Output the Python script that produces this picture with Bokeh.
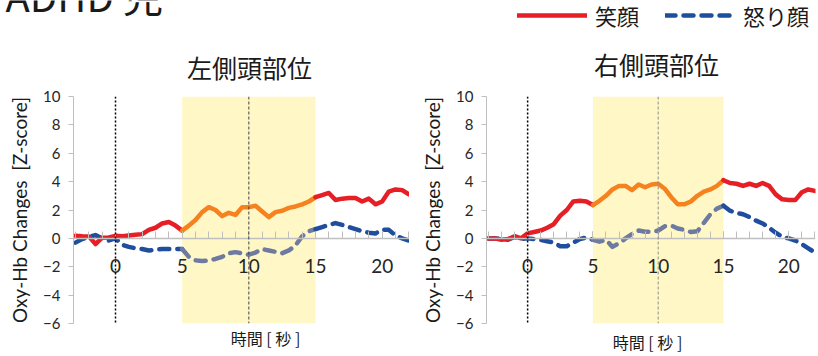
import numpy as np
from bokeh.plotting import figure
from bokeh.layouts import row, column
from bokeh.models import (ColumnDataSource, BoxAnnotation, Span, Legend, LegendItem,
                          FixedTicker, SingleIntervalTicker)
from bokeh.core.properties import value
from bokeh.embed import file_html
from bokeh.resources import INLINE

# ---------------- data ----------------
time = [-3.0, -2.5, -2.0, -1.5, -1.0, -0.5,
        0.0, 0.5, 1.0, 1.5, 2.0, 2.5, 3.0, 3.5, 4.0, 4.5,
        5.0, 5.5, 6.0, 6.5, 7.0, 7.5, 8.0, 8.5, 9.0, 9.5,
        10.0, 10.5, 11.0, 11.5, 12.0, 12.5, 13.0, 13.5, 14.0, 14.5,
        15.0, 15.5, 16.0, 16.5, 17.0, 17.5, 18.0, 18.5, 19.0, 19.5,
        20.0, 20.5, 21.0, 21.5, 22.0]

left_smile = [0.18, 0.15, 0.14, -0.4, 0.05, 0.07,
              0.18, 0.15, 0.2, 0.25, 0.3, 0.6, 0.75, 1.05, 1.15, 0.9,
              0.55, 0.9, 1.3, 1.85, 2.2, 2.0, 1.57, 1.8, 1.65, 2.2,
              2.2, 2.3, 1.9, 1.5, 1.85, 1.95, 2.15, 2.25, 2.4, 2.6,
              2.9, 3.05, 3.2, 2.7, 2.8, 2.85, 2.85, 2.6, 2.8, 2.4,
              2.6, 3.3, 3.45, 3.4, 3.1]
left_anger = [-0.3, -0.05, 0.1, 0.23, 0.0, -0.15,
              0.0, -0.45, -0.6, -0.7, -0.75, -0.85, -0.8, -0.75, -0.75, -0.75,
              -0.75, -1.3, -1.55, -1.6, -1.55, -1.45, -1.3, -1.05, -0.97, -1.05,
              -1.15, -1.0, -0.76, -0.85, -0.95, -1.04, -0.85, -0.5, 0.15, 0.5,
              0.65, 0.8, 0.95, 1.08, 0.95, 0.8, 0.65, 0.5, 0.4, 0.35,
              0.6, 0.6, 0.2, 0.0, -0.15]
right_smile = [0.0, 0.0, -0.1, -0.05, 0.15, 0.0,
               0.35, 0.45, 0.55, 0.75, 1.0, 1.6, 2.0, 2.6, 2.65, 2.6,
               2.35, 2.65, 3.0, 3.45, 3.7, 3.7, 3.4, 3.8, 3.6, 3.8,
               3.85, 3.5, 2.9, 2.4, 2.4, 2.6, 3.0, 3.3, 3.45, 3.7,
               4.1, 3.9, 3.85, 3.7, 3.85, 3.7, 3.9, 3.7, 3.1, 2.75,
               2.7, 2.7, 3.25, 3.45, 3.35]
right_anger = [0.0, 0.0, -0.05, -0.1, 0.1, -0.05,
               0.0, -0.05, -0.1, -0.2, -0.3, -0.55, -0.55, -0.3, -0.05, 0.07,
               -0.1, -0.23, -0.1, -0.6, -0.35, 0.0, 0.3, 0.55, 0.47, 0.45,
               0.55, 0.85, 0.9, 0.7, 0.6, 0.45, 0.5, 1.1, 1.7, 2.1,
               2.3, 1.95, 1.8, 1.7, 1.5, 1.25, 1.05, 0.75, 0.4, 0.1,
               0.0, -0.15, -0.4, -0.7, -1.0]

task_window = [5, 15]          # highlighted task period (s)
onset_line = 0                 # stimulus onset
mid_line = 10                  # mid-task marker
y_ticks = [-6, -4, -2, 0, 2, 4, 6, 8, 10]
panel_titles = ["左側頭部位", "右側頭部位"]
series_names = ["笑顔", "怒り顔"]
header = "ADHD 児"
x_title = "時間 [ 秒 ]"
y_title = "Oxy-Hb Changes \u00a0[Z-score]"

RED, ORANGE = "#e61e25", "#f5821f"
BLUE, GREYBLUE = "#1f4e9e", "#6e7aa0"
JP = "Noto Sans CJK JP"
LAT = "Lato"
TXT = "#1a1a1a"

t = np.array(time)


def segments(vals):
    v = np.array(vals)
    pre = t <= task_window[0]
    mid = (t >= task_window[0]) & (t <= task_window[1])
    post = t >= task_window[1]
    return [ColumnDataSource(dict(x=t[m], y=v[m])) for m in (pre, mid, post)]


def blank_fig(w, h):
    f = figure(width=w, height=h, x_range=(0, w), y_range=(h, 0),
               output_backend="svg", toolbar_location=None, title=None,
               min_border_left=0, min_border_right=0, min_border_top=0, min_border_bottom=0)
    f.xaxis.visible = False
    f.yaxis.visible = False
    f.grid.visible = False
    f.outline_line_color = None
    return f


def make_panel(smile, anger, border_left, border_right, border_top, mid_color):
    p = figure(width=409, height=249, x_range=(-3.15, 22.05), y_range=(-6, 10),
               output_backend="svg", toolbar_location=None, title=None,
               min_border_left=border_left, min_border_right=border_right,
               min_border_top=border_top, min_border_bottom=8)
    p.outline_line_color = None
    p.grid.visible = False

    p.add_layout(BoxAnnotation(left=task_window[0], right=task_window[1],
                               fill_color="#fff8c6", fill_alpha=1.0,
                               line_color=None, level="underlay"))

    ya = p.yaxis[0]
    ya.ticker = FixedTicker(ticks=y_ticks)
    ya.axis_line_color = "#bfbfbf"
    ya.major_tick_line_color = "#bfbfbf"
    ya.major_tick_out = 5
    ya.major_tick_in = 0
    ya.minor_tick_line_color = None
    ya.major_label_text_font = LAT
    ya.major_label_text_font_size = "15px"
    ya.major_label_text_color = "#262626"
    ya.major_label_standoff = 8
    ya.axis_label = y_title
    ya.axis_label_text_font = LAT
    ya.axis_label_text_font_size = "19px"
    ya.axis_label_text_font_style = "normal"
    ya.axis_label_text_color = TXT
    ya.axis_label_standoff = 9

    xa = p.xaxis[0]
    xa.fixed_location = 0
    xa.ticker = SingleIntervalTicker(interval=5, num_minor_ticks=5)
    xa.axis_line_color = "#bfbfbf"
    xa.axis_line_width = 1.5
    xa.major_tick_line_color = "#bfbfbf"
    xa.minor_tick_line_color = "#bfbfbf"
    xa.major_tick_in = 7
    xa.major_tick_out = 0
    xa.minor_tick_in = 7
    xa.minor_tick_out = 0
    xa.major_label_text_font = LAT
    xa.major_label_text_font_size = "19px"
    xa.major_label_text_color = "#262626"
    xa.major_label_standoff = 21

    p.add_layout(Span(location=onset_line, dimension="height", line_color="black",
                      line_dash="2 2", line_width=1.5))
    p.add_layout(Span(location=mid_line, dimension="height", line_color=mid_color,
                      line_dash="3 2", line_width=1))

    for vals, cols, dash in ((anger, (BLUE, GREYBLUE, BLUE), "10 8"),
                             (smile, (RED, ORANGE, RED), "solid")):
        for src, col in zip(segments(vals), cols):
            p.line("x", "y", source=src, line_color=col, line_width=4.5,
                   line_dash=dash, line_cap="round", line_join="round")
    return p


# ---------- header (page title, legend, panel titles) ----------
hdr = blank_fig(818, 82)
hdr.text(x=[5], y=[-6], text=[header], text_font=value(JP), text_font_size="40px",
         text_align="left", text_baseline="alphabetic", text_color=TXT)
hdr.text(x=[249, 656], y=[66, 63], text=panel_titles, text_font=value(JP),
         text_font_size="25px", text_align="center", text_baseline="middle",
         text_color=TXT)
# legend proxies (kept outside the visible header range)
leg_smile = hdr.line(x=[-50, -40], y=[-50, -50], line_color=RED, line_width=4.5,
                     line_cap="round")
leg_anger = hdr.line(x=[-50, -40], y=[-50, -50], line_color=BLUE, line_width=4.5,
                     line_dash="10 8", line_cap="round")
lg = Legend(items=[LegendItem(label=series_names[0], renderers=[leg_smile]),
                   LegendItem(label=series_names[1], renderers=[leg_anger])],
            location=(517, 51), orientation="horizontal",
            glyph_width=70, glyph_height=20, label_standoff=8, spacing=26,
            padding=0, margin=0, border_line_color=None,
            background_fill_alpha=0, label_text_font=JP,
            label_text_font_size="22px", label_text_color=TXT,
            label_text_baseline="middle", label_height=20)
hdr.add_layout(lg)

# ---------- panels ----------
p1 = make_panel(left_smile, left_anger, 73, 0, 10, "#404040")
p2 = make_panel(right_smile, right_anger, 77, 3, 14, "#8c8c8c")

# ---------- footer (x-axis titles) ----------
ftr = blank_fig(818, 25)
ftr.text(x=[265, 647], y=[6, 10], text=[x_title, x_title], text_font=value(JP),
         text_font_size="16px", text_align="center", text_baseline="middle",
         text_color=TXT)

layout = column(hdr, row(p1, p2), ftr)
open("out.html", "w").write(file_html(layout, INLINE))
